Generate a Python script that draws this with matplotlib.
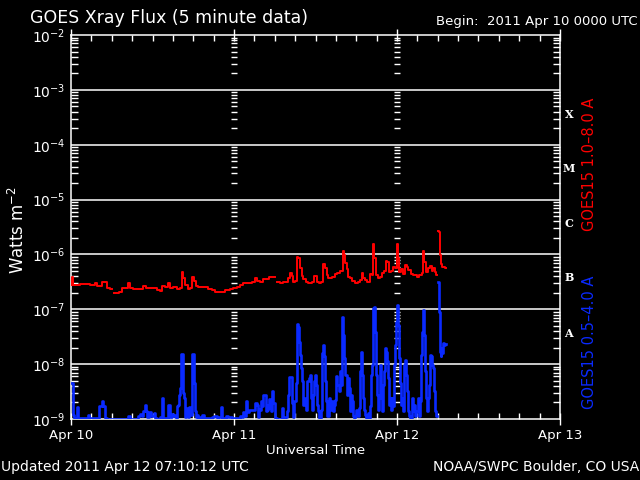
import numpy as np
import matplotlib
matplotlib.use('Agg')
import matplotlib.pyplot as plt
from matplotlib.ticker import LogLocator, MultipleLocator, NullFormatter

#================================================================================
#   DATA  (hours since 2011 Apr 10 0000 UTC, flux)
#       red  = GOES15 1.0-8.0 A, in units of 1e-7 W/m^2
#       blue = GOES15 0.5-4.0 A, in units of 1e-9 W/m^2
#       nan  = data gap
#================================================================================
nan = float('nan')

red_hours = [0.0, 0.15, 0.3, 1.3, 1.8, 2.3, 2.8, 3.5, 3.6, 3.8, 4.3, 4.5, 5.0, 5.25, 5.75, 6.0,
             6.3, 7.0, 7.5, 8.0, 8.4, 8.7, 9.2, 10.2, 10.6, 11.1, 11.9, 12.6, 13.1, 13.45, 13.84,
             14.33, 14.58, 15.07, 15.56, 16.05, 16.3, 16.54, 16.79, 17.18, 17.52, 17.87, 18.11,
             18.36, 18.75, 19.24, 19.98, 20.22, 20.71, 21.2, 22.43, 22.68, 23.41, 23.9, 24.4,
             24.89, 25.38, 26.11, 26.7, 27.1, 27.44, 27.83,
             28.31, 28.8, 29.19, 29.54, 29.78, 30.0, 30.28, 30.77, 31.26, 31.75, 31.99, 32.24,
             32.48, 32.73, 32.98, 33.22, 33.47, 33.71, 33.96, 34.2, 34.6, 34.94, 35.43, 35.82,
             36.17, 36.56, 36.81, 37.05, 37.39, 37.64, 37.89, 38.38, 38.87, 39.21, 39.6, 40.0,
             40.19, 40.39, 40.59, 40.83, 41.08, 41.32,
             41.8, 42.19, 42.54, 42.78, 43.03, 43.27, 43.52, 43.76, 44.01, 44.26, 44.5, 44.65,
             44.84, 45.14, 45.48, 45.83, 46.12, 46.32, 46.56, 46.81, 47.1, 47.45, 47.69, 47.94,
             48.08, 48.28, 48.58, 48.92, 49.17, 49.41, 49.66, 50.05, 50.39, 50.88, 51.23, 51.62,
             51.77, 51.91, 52.21, 52.5, 52.85, 53.09, 53.34, 53.58, 53.73, 53.85, 53.98, 54.17,
             54.32, 54.47, 54.66, 55.06, 55.15]
red_flux = [2.8, 3.8, 2.8, 2.85, 2.93, 2.93, 2.77, 2.77, 3.0, 2.66, 2.66, 3.14, 3.14, 2.48, 2.34, nan,
            2.01, 2.10, 2.48, 2.48, 3.0, 2.48, 2.31, 2.31, 2.66, 2.48, 2.41, 2.28, 2.16, 2.66, 2.55,
            2.97, 2.41, 2.55, 2.34, 2.41, 4.71, 3.66, 2.77, 2.34, 2.48, 3.82, 3.27,
            2.66, 2.55, 2.58, 2.58, 2.34, 2.22, 2.07, 2.07, 2.25, 2.31, 2.41, 2.55,
            2.77, 2.97, 3.01, 3.10, 3.77, 3.27, 3.19,
            3.51, 3.56, 3.92, 3.82, 3.82, nan, 3.19, 3.01, 3.10, 3.10, 3.66, 4.64,
            4.03, 3.10, 3.27, 8.81, 8.45, 5.56, 4.03, 3.56, 3.10, 3.01, 3.19, 4.09,
            3.19, 2.97, 3.19, 6.58, 5.73, 4.21, 3.77, 3.92, 4.33, 4.64, 4.98, 11.5,
            9.73, 6.85, 5.33, 3.92, 3.66, 3.27,
            2.97, 3.10, 3.41, 4.51, 3.66, 3.41, 3.10, 3.19, 4.33, 4.21, 15.2, 8.45,
            4.21, 3.77, 3.92, 4.51, 4.98, 7.56, 7.36, 4.84, 4.98, 5.97, 5.73, 15.8,
            8.45, 4.84, 5.41, 4.33, 6.40, 5.97, 5.19, 4.33, 4.21, 3.92, 4.21, 4.51,
            11.5, 7.36, 4.84, 5.56, 6.22, 4.98, 5.73, 4.84, 4.21, nan, 26.5, 25.8,
            9.73, 6.58, 5.97, 5.73, 5.56]

blue_hours = [0.0, 0.15, 0.3, 0.45, 0.8, 0.93, 1.08, 2.3, 2.45, 2.65, 4.0, 4.17, 4.37, 4.57, 4.76,
              4.96, 5.25, 8.3, 8.44, 8.69, 9.7, 9.92, 10.16, 10.41, 10.65, 10.85, 11.05, 11.24,
              11.54, 11.73, 12.03, 12.22, 12.42, 12.71, 13.11, 13.35, 13.6,
              13.84, 14.23, 14.33, 14.53, 14.82, 15.07, 15.21, 15.41, 15.61, 15.8, 15.95, 16.1,
              16.2, 16.34, 16.49, 16.64, 16.79, 16.98, 17.18, 17.38, 17.57, 17.77, 17.87, 18.01,
              18.16, 18.26, 18.41, 18.55, 18.75, 19.0, 19.34, 19.63, 20.71, 21.1, 21.45, 21.7,
              22.04, 22.19, 22.82, 23.17, 23.66, 24.64, 24.89, 25.13, 25.33, 25.53, 25.82, 25.97,
              26.21, 26.51, 26.85, 27.1, 27.34, 27.49, 27.74,
              27.82, 28.02, 28.16, 28.31, 28.51, 28.65, 28.8, 29.0, 29.15, 29.29, 29.49, 29.64,
              29.78, 29.98, 30.28, 30.77, 31.06, 31.21, 31.5, 31.75, 31.94, 32.14, 32.34, 32.48,
              32.68, 32.88, 33.07, 33.22, 33.42, 33.56, 33.71, 33.86, 34.01, 34.2, 34.4, 34.6,
              34.79, 34.99, 35.14, 35.28, 35.43, 35.58, 35.77, 35.92, 36.07, 36.27, 36.41, 36.56,
              36.76, 36.9, 37.05, 37.2, 37.39, 37.54, 37.74, 37.93, 38.13, 38.33, 38.52, 38.72,
              38.87, 39.01, 39.21, 39.41, 39.6, 39.8, 39.95, 40.09, 40.24, 40.39, 40.59, 40.73,
              40.88, 41.03, 41.17, 41.32, 41.47, 41.66,
              41.8, 42.0, 42.19, 42.39, 42.54, 42.68, 42.83, 42.98, 43.13, 43.27, 43.47, 43.67,
              43.86, 44.01, 44.16, 44.3, 44.45, 44.6, 44.75, 44.89, 45.04, 45.19, 45.34, 45.48,
              45.63, 45.78, 45.92, 46.07, 46.17, 46.32, 46.46, 46.61, 46.76, 46.91, 47.05, 47.2,
              47.35, 47.54, 47.69, 47.84, 47.94, 48.08, 48.23, 48.38, 48.53, 48.67, 48.82, 48.97,
              49.12, 49.26, 49.41, 49.56, 49.75, 49.95, 50.15, 50.29, 50.44, 50.64, 50.83, 51.03,
              51.23, 51.42, 51.57, 51.72, 51.82, 51.96, 52.11, 52.26, 52.41, 52.55, 52.7, 52.85,
              53.0, 53.14, 53.29, 53.44, 53.58, 53.73, 53.85, 54.07, 54.17, 54.27, 54.32, 54.42,
              54.52, 54.66, 54.76, 54.91, 55.06, 55.15]
blue_flux = [4.6, 4.6, 1.2, 1.0, 1.05, 1.63, 1.04, 1.04, 1.2, 1.04, 1.04, 1.7, 1.7, 2.15, 1.7,
             1.04, 1.0, 1.0, 1.15, 1.0, 1.0, 1.15, 1.23, 1.12, 1.42, 1.82, 1.38, 1.07,
             1.34, 1.12, 1.15, 1.29, 1.04, 1.0, 1.07, 2.37, 1.04,
             1.04, 1.04, 1.82, 1.07, 1.23, 1.12, 1.20, 1.04, 1.75, 1.82, 2.69, 3.66,
             15.2, 15.2, 2.97, 2.41, 1.07, 1.58, 1.07, 1.63, 1.17, 1.38, 15.2, 15.2,
             4.51, 1.38, 1.07, 1.17, 1.07, 1.04, 1.17, 1.04, 1.07, 1.12, 1.04, 1.07,
             1.65, 1.04, 1.12, 1.07, 1.04, 1.04, 1.15, 1.07, 1.32, 1.12, 2.10, 1.32,
             1.48, 1.48, 1.48, 1.95, 1.82, 1.07, 1.54,
             1.48, 2.10, 1.70, 2.69, 2.69, 1.38, 1.48, 1.82, 2.31, 1.58, 1.38, 3.18,
             1.95, 1.04, 1.0, 1.0, 1.58, 1.04, 1.07, 1.38, 2.69, 5.72, 5.72, 1.95,
             1.07, 2.10, 4.51, 53.4, 48.4, 25.8, 14.8, 8.46, 4.84, 1.82, 2.41, 1.48,
             4.84, 5.56, 6.40, 2.41, 1.48, 2.77, 4.84, 6.40, 4.21, 1.82, 1.38, 1.04,
             1.48, 15.8, 22.5, 13.8, 4.84, 2.10, 1.12, 2.41, 1.48, 2.15, 1.38, 1.82,
             2.25, 5.97, 4.21, 3.18, 7.36, 4.21, 73.6, 34.1, 12.9, 6.40, 2.77, 5.56,
             3.66, 1.38, 2.77, 2.10, 1.12, 1.04,
             1.12, 1.48, 1.12, 1.58, 7.36, 17.0, 6.40, 2.41, 1.48, 1.20, 1.04, 1.29,
             1.04, 1.70, 6.40, 9.72, 104, 112, 39.3, 6.40, 2.77, 1.48, 2.41, 9.72,
             2.41, 1.38, 4.21, 7.36, 19.5, 17.0, 11.2, 5.56, 1.82, 2.41, 1.48, 2.41,
             1.70, 9.72, 22.5, 59.7, 120, 51.9, 12.9, 4.51, 1.82, 2.41, 1.38, 9.72,
             12.0, 6.40, 3.18, 1.38, 1.12, 1.04, 2.41, 1.38, 1.82, 1.12, 1.38, 2.41,
             1.12, 2.10, 14.8, 39.3, 97.2, 34.1, 7.36, 2.41, 1.38, 2.41, 4.21, 14.8,
             13.8, 9.72, 8.46, 3.18, 1.38, 1.12, nan, 310, 90.7, 39.3, 17.0, 13.8,
             19.5, 15.8, 24.1, 22.5, 23.4, 23.1]

day_ticks = [0, 24, 48, 72]
day_labels = ['Apr 10', 'Apr 11', 'Apr 12', 'Apr 13']
decades = [-9, -8, -7, -6, -5, -4, -3, -2]
flare_classes = ['A', 'B', 'C', 'M', 'X']

#================================================================================
#   FIGURE
#================================================================================
fig = plt.figure(figsize=(6.4, 4.8), dpi=100, facecolor='black')
ax = fig.add_axes([71/640, 61/480, 489/640, 384/480])
ax.set_facecolor('black')
for s in ax.spines.values():
    s.set_color('white')
    s.set_linewidth(1.1)

ax.set_yscale('log')
ax.set_xlim(0, 72)
ax.set_ylim(1e-9, 1e-2)

# horizontal decade lines
for k in decades[1:-1]:
    ax.axhline(10.0**k, color='white', lw=1.1, zorder=1)

# tick-mark "axes" at each day boundary (minor log ticks only)
minor_pos = [m * 10.0**k for k in decades[:-1] for m in range(2, 10)]
for d in day_ticks[1:-1]:
    ax.plot([d] * len(minor_pos), minor_pos, ls='none', marker='_', ms=3.8, mew=1.0,
            color='white', zorder=1)

# the two channels
ax.plot(red_hours, np.array(red_flux) * 1e-7, color='#ff0000', lw=1.4,
        drawstyle='steps-post', zorder=3)
ax.plot(blue_hours, np.array(blue_flux) * 1e-9, color='#0a2aff', lw=1.9,
        drawstyle='steps-post', zorder=4)

# ticks
ax.set_yticks([10.0**k for k in decades])
ax.set_yticklabels(['$10^{%d}$' % k for k in decades])
ax.yaxis.set_minor_locator(LogLocator(base=10, subs=range(2, 10), numticks=20))
ax.yaxis.set_minor_formatter(NullFormatter())
ax.tick_params(axis='y', which='major', length=0, pad=4, labelsize=10, colors='white',
               left=True, right=True)
ax.tick_params(axis='y', which='minor', direction='in', length=5, width=1, color='white',
               left=True, right=True)

ax.set_xticks(day_ticks)
ax.set_xticklabels(day_labels)
ax.xaxis.set_minor_locator(MultipleLocator(3))
ax.tick_params(axis='x', which='major', direction='inout', length=9, width=1, pad=3,
               labelsize=9.5, colors='white', top=True, bottom=True)
ax.tick_params(axis='x', which='minor', direction='in', length=4, width=1, color='white',
               top=True, bottom=True)

ax.set_xlabel('Universal Time', color='white', fontsize=9.5, labelpad=1)
fig.text(18/640, 1 - 230/480, 'Watts m$^{-2}$', color='white', fontsize=12,
         rotation=90, ha='center', va='center')

# flare class letters
class_levels = [-7.44, -6.42, -5.44, -4.44, -3.45]
for c, lv in zip(flare_classes, class_levels):
    ax.text(1.018, 10.0**lv, c, transform=ax.get_yaxis_transform(), color='white',
            fontsize=8, fontfamily='DejaVu Serif', fontweight='bold', ha='center', va='center')

# channel labels
fig.text(590/640, 1 - 164/480, 'GOES15 1.0\u20138.0 A', color='#ff0000', fontsize=10.5,
         rotation=90, ha='center', va='center')
fig.text(590/640, 1 - 342/480, 'GOES15 0.5\u20134.0 A', color='#0a2aff', fontsize=10.5,
         rotation=90, ha='center', va='center')

# titles / footers
fig.text(30/640, 1 - 18/480, 'GOES Xray Flux (5 minute data)', color='white', fontsize=12.5,
         ha='left', va='center')
fig.text(638/640, 1 - 22/480, 'Begin:  2011 Apr 10 0000 UTC', color='white', fontsize=9.5,
         ha='right', va='center')
fig.text(1/640, 1 - 467/480, 'Updated 2011 Apr 12 07:10:12 UTC', color='white', fontsize=10,
         ha='left', va='center')
fig.text(639/640, 1 - 467/480, 'NOAA/SWPC Boulder, CO USA', color='white', fontsize=10,
         ha='right', va='center')

fig.savefig('out.png', dpi=100, facecolor='black')
